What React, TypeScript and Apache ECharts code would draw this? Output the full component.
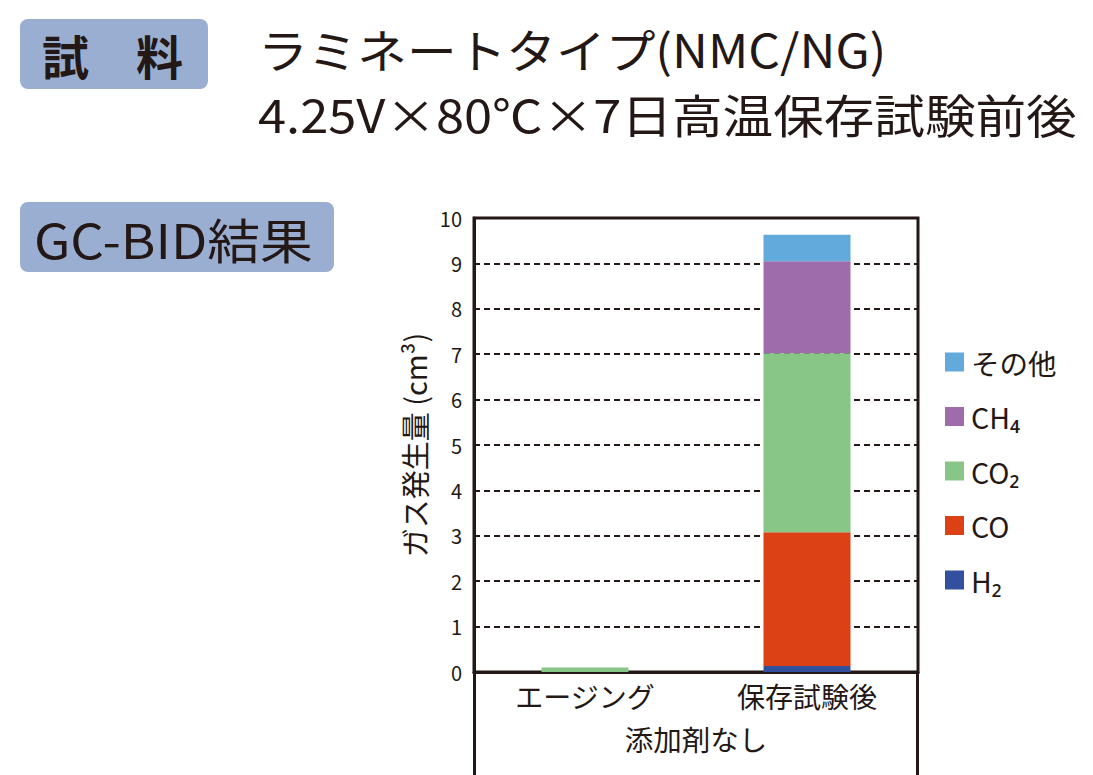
import React, { useEffect, useRef } from "react";
import * as echarts from "echarts";

const categories = ["エージング", "保存試験後"];
const seriesNames = ["H₂", "CO", "CO₂", "CH₄", "その他"];
const h2Values = [0, 0.13];
const coValues = [0, 2.95];
const co2Values = [0.1, 3.94];
const ch4Values = [0, 2.03];
const otherValues = [0, 0.58];
const yTicks = { min: 0, max: 10, interval: 1 };
const colors = ["#33509f", "#dc4116", "#87c686", "#9e6caa", "#62a9dc"];

const INK = "#231815";
const FONT = "'Noto Sans CJK JP', 'Noto Sans', sans-serif";

export default function App() {
  const ref = useRef<HTMLDivElement>(null);
  useEffect(() => {
    if (!ref.current) return;
    const chart = echarts.init(ref.current, null, { renderer: "svg" });
    const values = [h2Values, coValues, co2Values, ch4Values, otherValues];
    const option: any = {
      animation: false,
      backgroundColor: "#ffffff",
      textStyle: { fontFamily: FONT, color: INK },
      grid: {
        left: 474,
        top: 218,
        right: 175,
        bottom: 103,
        show: true,
        borderColor: INK,
        borderWidth: 3,
        backgroundColor: "transparent",
      },
      legend: {
        orient: "vertical",
        left: 940,
        top: 342,
        icon: "rect",
        itemWidth: 19,
        itemHeight: 19,
        itemGap: 24.5,
        data: [...seriesNames].reverse(),
        textStyle: {
          fontFamily: FONT,
          fontSize: 28.5,
          lineHeight: 30,
          color: INK,
          padding: [0, 0, 0, 2],
        },
      },
      xAxis: {
        type: "category",
        data: categories,
        axisLine: { show: true, lineStyle: { color: INK, width: 3 } },
        axisTick: { show: false },
        axisLabel: { fontSize: 28, color: INK, margin: 10, fontFamily: FONT },
        name: "添加剤なし",
        nameLocation: "middle",
        nameGap: 52,
        nameTextStyle: { fontSize: 28.5, color: INK, fontFamily: FONT },
      },
      yAxis: {
        type: "value",
        min: yTicks.min,
        max: yTicks.max,
        interval: yTicks.interval,
        axisLine: { show: true, lineStyle: { color: INK, width: 3 } },
        axisTick: { show: true, inside: true, length: 4, lineStyle: { color: INK, width: 2 } },
        axisLabel: { fontSize: 20, color: INK, margin: 12, fontFamily: FONT },
        splitLine: { show: true, lineStyle: { color: INK, width: 2, type: [6, 4] } },
        name: "ガス発生量 (cm³)",
        nameLocation: "middle",
        nameGap: 46,
        nameTextStyle: { fontSize: 29, color: INK, fontFamily: FONT },
      },
      series: seriesNames.map((name, i) => ({
        name,
        type: "bar",
        stack: "gas",
        barWidth: 87,
        data: values[i],
        itemStyle: { color: colors[i] },
        emphasis: { disabled: true },
      })),
      graphic: [
        { type: "line", shape: { x1: 474.5, y1: 672, x2: 474.5, y2: 775 }, style: { stroke: INK, lineWidth: 3 } },
        { type: "line", shape: { x1: 917.5, y1: 672, x2: 917.5, y2: 775 }, style: { stroke: INK, lineWidth: 3 } },
        { type: "rect", shape: { x: 20, y: 19, width: 188, height: 70, r: 8 }, style: { fill: "#9aaed2" } },
        { type: "text", x: 42, y: 54, style: { text: "試　料", font: `bold 47px ${FONT}`, fill: INK, verticalAlign: "middle" } },
        { type: "rect", shape: { x: 20, y: 202, width: 314, height: 70, r: 8 }, style: { fill: "#9aaed2" } },
        { type: "text", x: 34, y: 238, scaleX: 1.1, style: { text: "GC-BID結果", font: `48px ${FONT}`, fill: INK, verticalAlign: "middle" } },
        { type: "text", x: 258, y: 48, scaleX: 1.08, style: { text: "ラミネートタイプ(NMC/NG)", font: `46px ${FONT}`, fill: INK, verticalAlign: "middle" } },
        { type: "text", x: 258, y: 113, scaleX: 1.1, style: { text: "4.25V×80℃×7日高温保存試験前後", font: `46px ${FONT}`, fill: INK, verticalAlign: "middle" } },
      ],
    };
    chart.setOption(option);
    return () => chart.dispose();
  }, []);
  return (
    <div
      ref={ref}
      style={{ position: "absolute", left: 0, top: 0, width: 1093, height: 775, background: "#fff" }}
    />
  );
}
